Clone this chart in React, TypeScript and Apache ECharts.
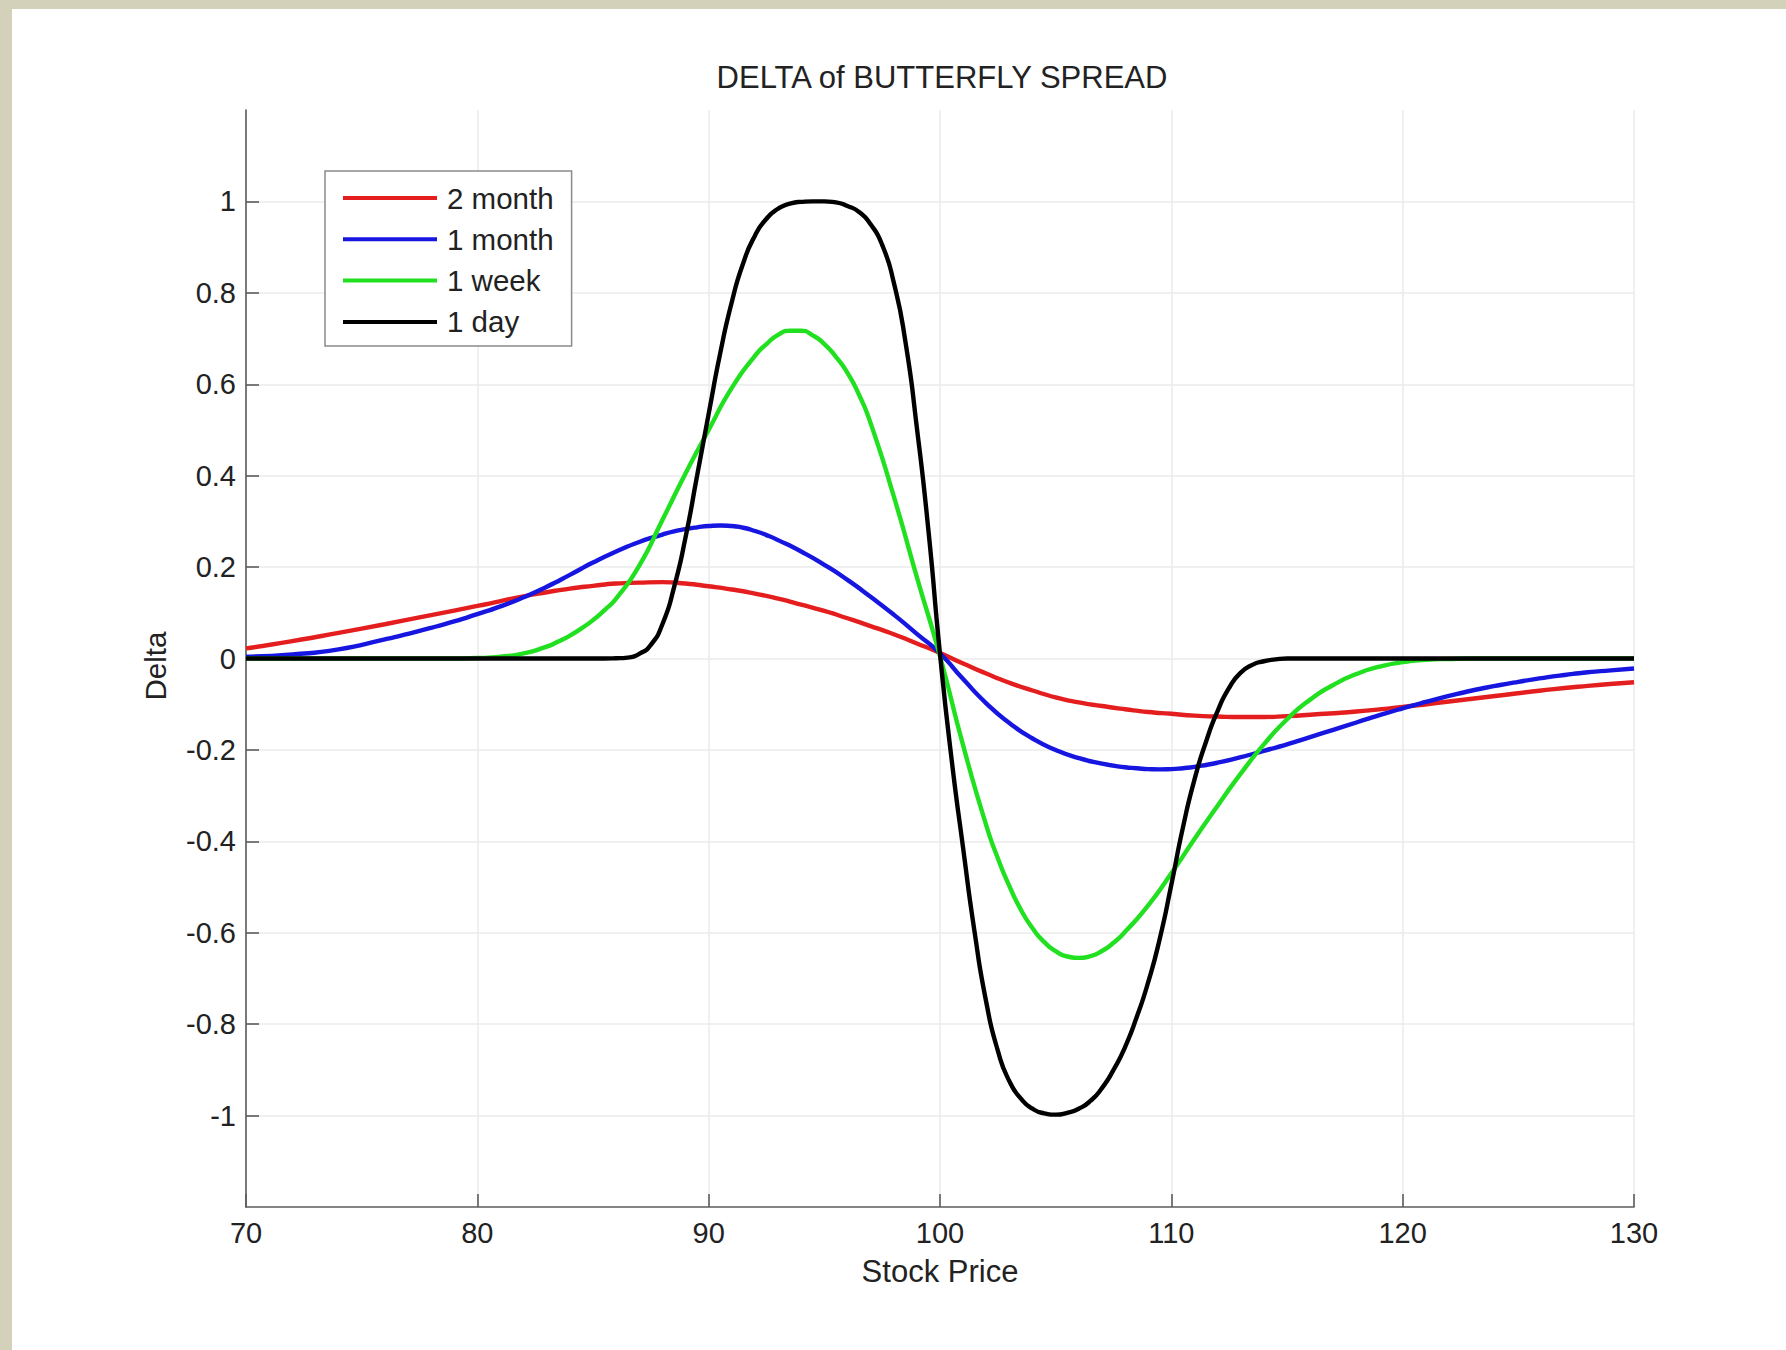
import React, { useEffect, useRef } from "react";
import * as echarts from "echarts";

const FONT = "'Liberation Sans', Arial, Helvetica, sans-serif";

const TITLE = "DELTA of BUTTERFLY SPREAD";
const X_NAME = "Stock Price";
const Y_NAME = "Delta";

const seriesNames = ["2 month", "1 month", "1 week", "1 day"];
const seriesColors = ["#e41e1e", "#1616e0", "#20e020", "#000000"];

const yTickValues = [-1, -0.8, -0.6, -0.4, -0.2, 0, 0.2, 0.4, 0.6, 0.8, 1];

// [stock price, delta]
const twoMonth: [number, number][] = [
  [70, 0.022], [72, 0.038], [74, 0.056], [76, 0.075], [78, 0.095], [80, 0.115],
  [82, 0.136], [83, 0.145], [84, 0.153], [85, 0.159], [86, 0.164], [87, 0.166],
  [88, 0.167], [89, 0.164], [90, 0.158], [91, 0.151], [92, 0.142], [93, 0.131],
  [94, 0.118], [95, 0.104], [96, 0.088], [97, 0.071], [98, 0.053], [99, 0.033],
  [100, 0.012], [101, -0.011], [102, -0.033], [103, -0.053], [104, -0.07],
  [105, -0.085], [106, -0.096], [107, -0.104], [108, -0.111], [109, -0.117],
  [110, -0.121], [111, -0.125], [112, -0.127], [113, -0.128], [114, -0.128],
  [115, -0.126], [116, -0.123], [118, -0.116], [120, -0.106], [122, -0.094],
  [124, -0.082], [126, -0.07], [128, -0.06], [130, -0.052],
];

const oneMonth: [number, number][] = [
  [70, 0.004], [72, 0.009], [74, 0.02], [76, 0.042], [77, 0.054], [78, 0.067],
  [79, 0.081], [80, 0.097], [81, 0.114], [82, 0.134], [83, 0.157], [84, 0.183],
  [85, 0.21], [86, 0.234], [87, 0.255], [88, 0.271], [88.5, 0.278], [89, 0.283],
  [89.5, 0.287], [90, 0.29], [90.5, 0.291], [91, 0.29], [91.5, 0.286], [92, 0.279],
  [92.5, 0.27], [93, 0.259], [94, 0.234], [95, 0.205], [96, 0.172],
  [97, 0.135], [98, 0.096], [99, 0.054], [100, 0.011], [101, -0.045], [102, -0.098],
  [103, -0.141], [104, -0.175], [105, -0.2], [106, -0.218], [107, -0.23],
  [108, -0.238], [108.5, -0.24], [109, -0.242], [109.5, -0.2425], [110, -0.242],
  [110.5, -0.24], [111, -0.237], [112, -0.228],
  [113, -0.216], [114, -0.202], [115, -0.188], [116, -0.172], [117, -0.156],
  [118, -0.14], [119, -0.124], [120, -0.109], [121, -0.095], [122, -0.082],
  [123, -0.07], [124, -0.06], [125, -0.051], [126, -0.043], [127, -0.036],
  [128, -0.03], [129, -0.026], [130, -0.022],
];

const oneWeek: [number, number][] = [
  [70, 0], [74, 0], [77, 0], [78, 0], [79, 0], [80, 0.001], [81, 0.004], [82, 0.011],
  [83, 0.026], [83.5, 0.037], [84, 0.05], [84.5, 0.066], [85, 0.084], [85.5, 0.106],
  [86, 0.131], [87, 0.203], [88, 0.303], [89, 0.405], [90, 0.5], [91, 0.592],
  [92, 0.662], [92.5, 0.688], [93, 0.708], [93.5, 0.717], [94, 0.717], [94.5, 0.707],
  [95, 0.688], [95.5, 0.66], [96, 0.625], [96.5, 0.577], [97, 0.515], [98, 0.355],
  [99, 0.178], [100, 0.005], [101, -0.19], [102, -0.365], [102.5, -0.437],
  [103, -0.498], [103.5, -0.55], [104, -0.59], [104.5, -0.62], [105, -0.64],
  [105.5, -0.652], [106, -0.655], [106.5, -0.651], [107, -0.64], [107.5, -0.622],
  [108, -0.598], [109, -0.54], [110, -0.47], [111, -0.395], [112, -0.322],
  [113, -0.252], [114, -0.188], [115, -0.133], [116, -0.09], [117, -0.058],
  [118, -0.034], [119, -0.018], [120, -0.008], [121, -0.003], [122, -0.001],
  [123, 0], [125, 0], [127, 0], [130, 0],
];

const oneDay: [number, number][] = [
  [70, 0], [74, 0], [78, 0], [82, 0], [84, 0], [85, 0], [85.5, 0], [86, 0.0005],
  [86.5, 0.002], [87, 0.01], [87.5, 0.03], [88, 0.075], [88.5, 0.155], [89, 0.265],
  [89.5, 0.4], [90, 0.535], [90.5, 0.668], [91, 0.78], [91.5, 0.866], [92, 0.925],
  [92.5, 0.962], [93, 0.984], [93.5, 0.995], [94, 0.999], [94.5, 1.0], [95, 1.0],
  [95.5, 0.998], [96, 0.99], [96.5, 0.977], [97, 0.95], [97.5, 0.905], [98, 0.823],
  [98.5, 0.695], [99, 0.505], [99.5, 0.28], [100, 0.01], [100.5, -0.22], [101, -0.415],
  [101.5, -0.6], [102, -0.752], [102.5, -0.858], [103, -0.925], [103.5, -0.963],
  [104, -0.985], [104.5, -0.995], [105, -0.998], [105.5, -0.994], [106, -0.985],
  [106.5, -0.968], [107, -0.94], [107.5, -0.9], [108, -0.85], [108.5, -0.785],
  [109, -0.708], [109.5, -0.613], [110, -0.495], [110.5, -0.37], [111, -0.265],
  [111.5, -0.182], [112, -0.115], [112.5, -0.064], [113, -0.031], [113.5, -0.014],
  [114, -0.006], [114.5, -0.002], [115, 0], [116, 0], [118, 0], [122, 0], [126, 0], [130, 0],
];

const seriesData = [twoMonth, oneMonth, oneWeek, oneDay];

export default function App() {
  const ref = useRef<HTMLDivElement>(null);

  useEffect(() => {
    if (!ref.current) return;
    const chart = echarts.init(ref.current, null, { renderer: "svg" });
    const axisColor = "#5c5c5c";
    const labelColor = "#222222";
    const option: any = {
      animation: false,
      backgroundColor: "#ffffff",
      textStyle: { fontFamily: FONT },
      grid: { left: 234, right: 152, top: 101, bottom: 143 },
      xAxis: {
        type: "value",
        min: 70,
        max: 130,
        interval: 10,
        axisLine: { onZero: false, lineStyle: { color: axisColor, width: 1.6 } },
        axisTick: { inside: true, length: 13, lineStyle: { color: axisColor, width: 1.6 } },
        axisLabel: { margin: 11, fontSize: 29, color: labelColor, fontFamily: FONT },
        splitLine: { show: true, lineStyle: { color: "#ebebeb", width: 1.5 } },
      },
      yAxis: {
        type: "value",
        min: -1.2,
        max: 1.2,
        interval: 0.2,
        axisLine: { show: true, onZero: false, lineStyle: { color: axisColor, width: 1.6 } },
        axisTick: {
          show: true,
          inside: true,
          length: 13,
          customValues: yTickValues,
          lineStyle: { color: axisColor, width: 1.6 },
        },
        axisLabel: {
          margin: 10,
          fontSize: 29,
          color: labelColor,
          fontFamily: FONT,
          customValues: yTickValues,
          formatter: (v: number) => String(Math.round(v * 10) / 10),
        },
        splitLine: { show: true, lineStyle: { color: "#ebebeb", width: 1.5 } },
      },
      legend: {
        data: seriesNames,
        orient: "vertical",
        left: 313,
        top: 162,
        icon: "rect",
        itemWidth: 94,
        itemHeight: 4,
        itemGap: 11.3,
        padding: [12, 18, 9, 18],
        borderColor: "#8a8a8a",
        borderWidth: 1.5,
        backgroundColor: "#ffffff",
        selectedMode: false,
        textStyle: {
          fontSize: 29.5,
          lineHeight: 30,
          color: labelColor,
          fontFamily: FONT,
          padding: [0, 0, 0, 5],
        },
      },
      graphic: [
        {
          type: "text",
          x: 930,
          y: 68,
          style: {
            text: TITLE,
            fontSize: 31,
            fontFamily: FONT,
            fill: labelColor,
            align: "center",
            verticalAlign: "middle",
          },
        },
        {
          type: "text",
          x: 928,
          y: 1262,
          style: {
            text: X_NAME,
            fontSize: 31,
            fontFamily: FONT,
            fill: labelColor,
            align: "center",
            verticalAlign: "middle",
          },
        },
        {
          type: "text",
          x: 143,
          y: 657,
          rotation: Math.PI / 2,
          style: {
            text: Y_NAME,
            fontSize: 29.5,
            fontFamily: FONT,
            fill: labelColor,
            align: "center",
            verticalAlign: "middle",
          },
        },
      ],
      series: seriesNames.map((name, i) => ({
        name,
        type: "line",
        data: seriesData[i],
        smooth: 0.6,
        showSymbol: false,
        symbol: "none",
        lineStyle: { color: seriesColors[i], width: 4.4 },
        itemStyle: { color: seriesColors[i] },
        emphasis: { disabled: true },
      })),
    };
    chart.setOption(option);
    return () => chart.dispose();
  }, []);

  return (
    <div
      style={{
        position: "absolute",
        left: 0,
        top: 0,
        width: 1786,
        height: 1350,
        background: "#d3d1ba",
        overflow: "hidden",
      }}
    >
      <div
        ref={ref}
        style={{
          position: "absolute",
          left: 12,
          top: 9,
          width: 1774,
          height: 1341,
          background: "#ffffff",
        }}
      />
    </div>
  );
}
